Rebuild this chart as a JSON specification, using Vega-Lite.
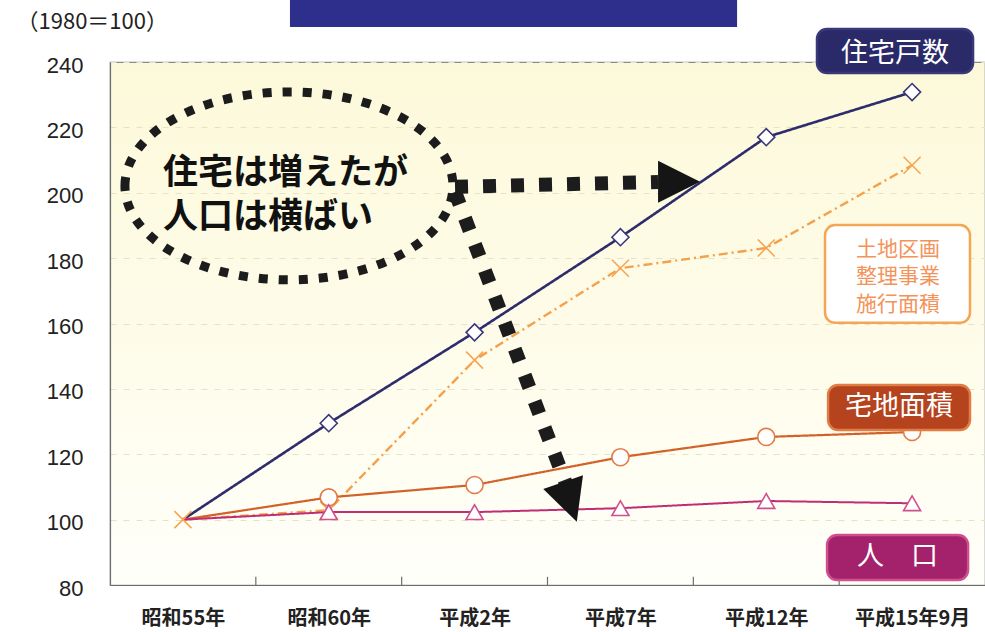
{
  "$schema": "https://vega.github.io/schema/vega-lite/v6.json",
  "autosize": "none",
  "width": 875,
  "height": 523,
  "padding": {"left": 110, "top": 62, "right": 0, "bottom": 47},
  "background": "white",
  "config": {
    "view": {"stroke": "#8a8a8a", "strokeWidth": 1.2, "fill": {"gradient": "linear", "x1": 0, "y1": 0, "x2": 0, "y2": 1, "stops": [{"offset": 0, "color": "#fcf9da"}, {"offset": 0.55, "color": "#fefcea"}, {"offset": 1, "color": "#fffffa"}]}},
    "font": "Noto Sans CJK JP"
  },
  "datasets": {
    "series": [
      {"year": "昭和55年", "i": 0, "series": "住宅戸数", "value": 100},
      {"year": "昭和60年", "i": 1, "series": "住宅戸数", "value": 129.5},
      {"year": "平成2年", "i": 2, "series": "住宅戸数", "value": 157.3},
      {"year": "平成7年", "i": 3, "series": "住宅戸数", "value": 186.4},
      {"year": "平成12年", "i": 4, "series": "住宅戸数", "value": 217},
      {"year": "平成15年9月", "i": 5, "series": "住宅戸数", "value": 230.8},
      {"year": "昭和55年", "i": 0, "series": "土地区画整理事業施行面積", "value": 100},
      {"year": "昭和60年", "i": 1, "series": "土地区画整理事業施行面積", "value": 102.9},
      {"year": "平成2年", "i": 2, "series": "土地区画整理事業施行面積", "value": 148.8},
      {"year": "平成7年", "i": 3, "series": "土地区画整理事業施行面積", "value": 176.9},
      {"year": "平成12年", "i": 4, "series": "土地区画整理事業施行面積", "value": 183.1},
      {"year": "平成15年9月", "i": 5, "series": "土地区画整理事業施行面積", "value": 208.4},
      {"year": "昭和55年", "i": 0, "series": "宅地面積", "value": 100},
      {"year": "昭和60年", "i": 1, "series": "宅地面積", "value": 106.8},
      {"year": "平成2年", "i": 2, "series": "宅地面積", "value": 110.6},
      {"year": "平成7年", "i": 3, "series": "宅地面積", "value": 119.1},
      {"year": "平成12年", "i": 4, "series": "宅地面積", "value": 125.3},
      {"year": "平成15年9月", "i": 5, "series": "宅地面積", "value": 126.8},
      {"year": "昭和55年", "i": 0, "series": "人口", "value": 100},
      {"year": "昭和60年", "i": 1, "series": "人口", "value": 102.3},
      {"year": "平成2年", "i": 2, "series": "人口", "value": 102.3},
      {"year": "平成7年", "i": 3, "series": "人口", "value": 103.5},
      {"year": "平成12年", "i": 4, "series": "人口", "value": 105.7},
      {"year": "平成15年9月", "i": 5, "series": "人口", "value": 105}
    ],
    "ticks": [{"b": 0.5}, {"b": 1.5}, {"b": 2.5}, {"b": 3.5}, {"b": 4.5}],
    "arrows": [
      {"arrow": "h", "x": 1.866, "y": 201.8},
      {"arrow": "h", "x": 3.258, "y": 203.3},
      {"arrow": "d", "x": 1.866, "y": 200.2},
      {"arrow": "d", "x": 2.627, "y": 110.9}
    ],
    "boxes": [
      {"label": "住宅戸数", "x1": 4.348, "x2": 5.418, "y1": 236.6, "y2": 250.1},
      {"label": "土地区画整理事業施行面積", "x1": 4.403, "x2": 5.397, "y1": 160.2, "y2": 190.1},
      {"label": "宅地面積", "x1": 4.424, "x2": 5.397, "y1": 127.4, "y2": 141.2},
      {"label": "人口", "x1": 4.417, "x2": 5.384, "y1": 81.5, "y2": 95.3}
    ],
    "boxText": [
      {"t": "住宅戸数", "x": 4.883, "y": 242.6},
      {"t": "宅地面積", "x": 4.91, "y": 134.5},
      {"t": "人　口", "x": 4.9, "y": 88.6}
    ],
    "landText": [
      {"t": "土地区画\n整理事業\n施行面積", "x": 4.904, "y": 182.6}
    ],
    "note": [
      {"t": "住宅は増えたが\n人口は横ばい", "x": -0.137, "y": 206.0}
    ]
  },
  "layer": [
    {
      "data": {"values": [{"x1": 0.734, "x2": 3.8, "y1": 250.7, "y2": 262}]},
      "mark": {"type": "rect", "color": "#2e2f8c", "clip": false},
      "encoding": {
        "x": {"field": "x1", "type": "quantitative"},
        "x2": {"field": "x2"},
        "y": {"field": "y1", "type": "quantitative"},
        "y2": {"field": "y2"}
      }
    },
    {
      "data": {"name": "series"},
      "mark": {"type": "line", "strokeCap": "butt"},
      "encoding": {
        "x": {
          "field": "i", "type": "quantitative",
          "scale": {"domain": [-0.5, 5.5], "nice": false, "zero": false},
          "axis": {
            "values": [0, 1, 2, 3, 4, 5],
            "labelExpr": "['昭和55年','昭和60年','平成2年','平成7年','平成12年','平成15年9月'][datum.value]",
            "ticks": false, "grid": false, "title": null,
            "domainColor": "#6e6e6e", "domainWidth": 1.2,
            "labelFont": "Noto Sans CJK JP", "labelFontSize": 20, "labelFontWeight": "bold",
            "labelColor": "#222222", "labelPadding": 23
          }
        },
        "y": {
          "field": "value", "type": "quantitative",
          "scale": {"domain": [80, 240], "nice": false, "zero": false},
          "axis": {
            "values": [80, 100, 120, 140, 160, 180, 200, 220, 240],
            "ticks": false, "grid": true, "gridColor": "#e6e2c4", "gridDash": [6, 7], "gridWidth": 1,
            "domainColor": "#6e6e6e", "domainWidth": 1.2,
            "labelFont": "Liberation Sans", "labelFontSize": 22, "labelColor": "#222222",
            "labelPadding": 27, "labelOffset": 3,
            "title": "（1980＝100）", "titleAngle": 0, "titleAlign": "left", "titleBaseline": "middle",
            "titleX": -94, "titleY": -41, "titleFont": "Noto Sans CJK JP", "titleFontSize": 22,
            "titleFontWeight": "normal", "titleColor": "#222222"
          }
        },
        "color": {
          "field": "series", "type": "nominal", "legend": null,
          "scale": {"domain": ["住宅戸数", "土地区画整理事業施行面積", "宅地面積", "人口"], "range": ["#2f2c6e", "#f5a04a", "#d2622a", "#bf2d72"]}
        },
        "strokeDash": {
          "field": "series", "type": "nominal", "legend": null,
          "scale": {"domain": ["住宅戸数", "土地区画整理事業施行面積", "宅地面積", "人口"], "range": [[1, 0], [9, 4, 2, 4], [1, 0], [1, 0]]}
        },
        "strokeWidth": {
          "field": "series", "type": "nominal", "legend": null,
          "scale": {"domain": ["住宅戸数", "土地区画整理事業施行面積", "宅地面積", "人口"], "range": [2.6, 2, 2.6, 2.6]}
        },
        "order": {"field": "i", "type": "quantitative"}
      }
    },
    {
      "data": {"name": "series"},
      "transform": [{"filter": "datum.i > 0 || datum.series === '土地区画整理事業施行面積'"}],
      "mark": {"type": "point", "fill": "white", "fillOpacity": 1, "opacity": 1, "strokeWidth": 1.6, "size": 290},
      "encoding": {
        "x": {"field": "i", "type": "quantitative"},
        "y": {"field": "value", "type": "quantitative"},
        "shape": {
          "field": "series", "type": "nominal", "legend": null,
          "scale": {"domain": ["住宅戸数", "土地区画整理事業施行面積", "宅地面積", "人口"], "range": ["diamond", "M-1,-1L1,1M1,-1L-1,1", "circle", "triangle-up"]}
        },
        "stroke": {
          "field": "series", "type": "nominal", "legend": null,
          "scale": {"domain": ["住宅戸数", "土地区画整理事業施行面積", "宅地面積", "人口"], "range": ["#3a3878", "#f5a655", "#e27c45", "#d0508e"]}
        }
      }
    },
    {
      "data": {"name": "ticks"},
      "mark": {"type": "rule", "color": "#6e6e6e", "strokeWidth": 1.2},
      "encoding": {
        "x": {"field": "b", "type": "quantitative"},
        "y": {"datum": 80, "type": "quantitative"},
        "y2": {"datum": 82.5}
      }
    },
    {
      "data": {"values": [{"x": 0.727, "y": 202.1}]},
      "mark": {"type": "point", "shape": "M-1,0C-1,-0.316,-0.552,-0.573,0,-0.573C0.552,-0.573,1,-0.316,1,0C1,0.316,0.552,0.573,0,0.573C-0.552,0.573,-1,0.316,-1,0Z", "size": 107584, "filled": false, "stroke": "#1c1c1c", "strokeWidth": 9, "strokeDash": [9, 11], "opacity": 1},
      "encoding": {
        "x": {"field": "x", "type": "quantitative"},
        "y": {"field": "y", "type": "quantitative"}
      }
    },
    {
      "data": {"name": "note"},
      "mark": {"type": "text", "align": "left", "baseline": "middle", "lineBreak": "\n", "lineHeight": 44, "font": "Noto Sans CJK JP", "fontSize": 35, "fontWeight": "bold", "color": "#111111"},
      "encoding": {
        "x": {"field": "x", "type": "quantitative"},
        "y": {"field": "y", "type": "quantitative"},
        "text": {"field": "t"}
      }
    },
    {
      "data": {"name": "arrows"},
      "mark": {"type": "line", "color": "#1c1c1c", "strokeWidth": 14, "strokeDash": [13, 15], "strokeCap": "butt"},
      "encoding": {
        "x": {"field": "x", "type": "quantitative"},
        "y": {"field": "y", "type": "quantitative"},
        "detail": {"field": "arrow"}
      }
    },
    {
      "data": {"values": [{"x": 3.402, "y": 203.4}]},
      "mark": {"type": "point", "shape": "M-1,-1L1,0L-1,1Z", "size": 1764, "filled": true, "color": "#151515", "opacity": 1},
      "encoding": {
        "x": {"field": "x", "type": "quantitative"},
        "y": {"field": "y", "type": "quantitative"}
      }
    },
    {
      "data": {"values": [{"x": 2.654, "y": 105.4}]},
      "mark": {"type": "point", "shape": "M-1,-1L1,-1L0,1Z", "angle": 341, "size": 1764, "filled": true, "color": "#151515", "opacity": 1},
      "encoding": {
        "x": {"field": "x", "type": "quantitative"},
        "y": {"field": "y", "type": "quantitative"}
      }
    },
    {
      "data": {"name": "boxes"},
      "mark": {"type": "rect", "cornerRadius": 10, "strokeWidth": 2.5, "clip": false},
      "encoding": {
        "x": {"field": "x1", "type": "quantitative"},
        "x2": {"field": "x2"},
        "y": {"field": "y1", "type": "quantitative"},
        "y2": {"field": "y2"},
        "fill": {
          "field": "label", "type": "nominal", "legend": null,
          "scale": {"domain": ["住宅戸数", "土地区画整理事業施行面積", "宅地面積", "人口"], "range": ["#2b2a68", "#ffffff", "#b4431e", "#a3226b"]}
        },
        "stroke": {
          "field": "label", "type": "nominal", "legend": null,
          "scale": {"domain": ["住宅戸数", "土地区画整理事業施行面積", "宅地面積", "人口"], "range": ["#2b2a68", "#f07a3e", "#b4431e", "#a3226b"]}
        }
      }
    },
    {
      "data": {"name": "boxText"},
      "mark": {"type": "text", "align": "center", "baseline": "middle", "font": "Noto Sans CJK JP", "fontSize": 27, "color": "#ffffff"},
      "encoding": {
        "x": {"field": "x", "type": "quantitative"},
        "y": {"field": "y", "type": "quantitative"},
        "text": {"field": "t"}
      }
    },
    {
      "data": {"name": "landText"},
      "mark": {"type": "text", "align": "center", "baseline": "middle", "lineBreak": "\n", "lineHeight": 27.5, "font": "Noto Sans CJK JP", "fontSize": 21, "color": "#f3935a"},
      "encoding": {
        "x": {"field": "x", "type": "quantitative"},
        "y": {"field": "y", "type": "quantitative"},
        "text": {"field": "t"}
      }
    }
  ]
}
